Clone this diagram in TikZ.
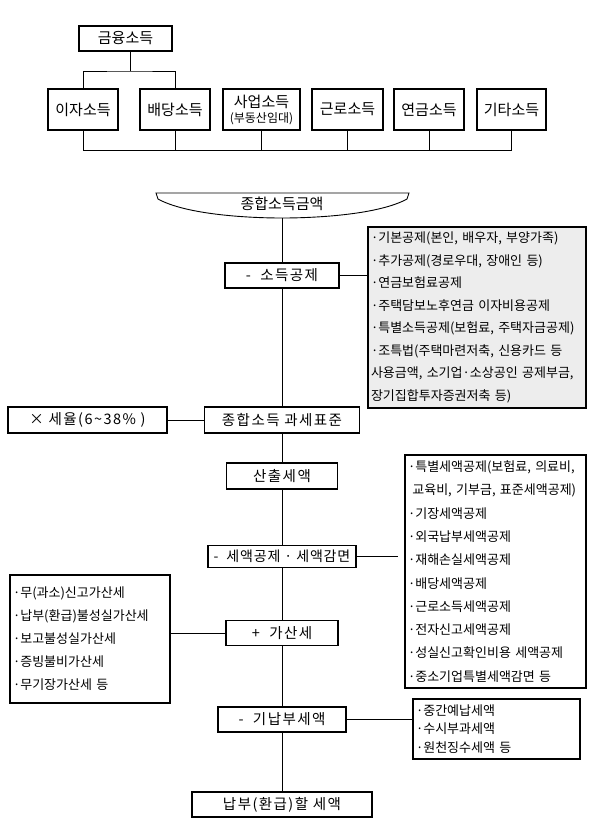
\documentclass[tikz,border=0pt]{standalone}
\usepackage{fontspec}
\setmainfont{Noto Sans CJK KR}
\newcommand\bigtxt{\fontsize{15pt}{18pt}\selectfont}
\newcommand\boxtxt{\fontsize{14.5pt}{16pt}\selectfont\addfontfeature{LetterSpace=10}}
\newcommand\listtxt[1]{\fontsize{13pt}{#1}\selectfont}

\begin{document}
\begin{tikzpicture}[x=1pt, y=-1pt]
\tikzset{ >=latex, inner sep=0pt, outer sep=0pt,
  box/.style={draw, line width=1.6pt, minimum height=25pt, font=\boxtxt},
  topbox/.style={draw, line width=1.6pt, minimum height=41pt, font=\bigtxt},
  listbox/.style={draw, line width=1.6pt, inner sep=3pt, align=left},
  link/.style={line width=0.9pt},
}
\useasboundingbox (0,0) rectangle (609,836);

%\draw [lightgray, dashed] (0,0) grid [step=50] (609,836);

% kinds of income
\node [box, font=\bigtxt, minimum width=93pt] (FI) at (125.5,38.5) {금융소득};
\node [topbox, minimum width=70pt] (IJ) at (83,109.5) {이자소득};
\node [topbox, minimum width=70pt] (BD) at (175,109.5) {배당소득};
\node [topbox, minimum width=77pt, align=center] (SU) at (261.5,109.5) {사업소득\\[-3pt]{\fontsize{12pt}{14pt}\selectfont(부동산임대)}};
\node [topbox, minimum width=71pt] (GR) at (347.5,109.5) {근로소득};
\node [topbox, minimum width=70pt] (YG) at (429,109.5) {연금소득};
\node [topbox, minimum width=69pt] (KT) at (511.5,109.5) {기타소득};

\coordinate (J) at (130,71);
\coordinate (B) at (0,150);

\draw [link] (FI.south -| J) -- (J);
\draw [link] (IJ.north) |- (J) -| (BD.north);

\draw [link] (IJ.south) -- (IJ.south |- B);
\draw [link] (BD.south) -- (BD.south |- B);
\draw [link] (SU.south) -- (SU.south |- B);
\draw [link] (GR.south) -- (GR.south |- B);
\draw [link] (YG.south) -- (YG.south |- B);
\draw [link] (KT.south) -- (KT.south |- B);
\draw [link] (IJ.south |- B) -- (KT.south |- B);

% total income
\node [font=\bigtxt] (TI) at (282,204) {종합소득금액};
\draw [link] (156,193) -- (409,193) -- (407,199)
  .. controls (380,214) and (320,218) .. (282,218)
  .. controls (244,218) and (185,214) .. (158,199) -- cycle;
\coordinate (TB) at (282,218);

% main column
\node [box, minimum width=114pt] (SG) at (282,275.5) {-\ \ 소득공제};
\node [box, minimum width=155pt, minimum height=26pt] (TS) at (282,420) {종합소득 과세표준};
\node [box, minimum width=159pt, minimum height=26pt] (SR) at (87.5,420) {×\ 세율(6\textasciitilde38\%\ )};
\node [box, minimum width=111pt, minimum height=26pt] (SC) at (282,476) {산출세액};
\node [box, minimum width=148pt, minimum height=22pt,
  font=\fontsize{14pt}{16pt}\selectfont\addfontfeature{LetterSpace=6}] (TC) at (282,556.5) {-\ \ 세액공제 · 세액감면};
\node [box, minimum width=112pt] (GS) at (282,633) {+\ \ 가산세};
\node [box, minimum width=128pt] (GN) at (282,719.5) {-\ \ 기납부세액};
\node [box, minimum width=180pt] (PR) at (282,804.5) {납부(환급)할 세액};

% lists
\node [listbox, fill=black!7, minimum width=218pt, minimum height=181pt, text width=212pt,
  font=\listtxt{22.5pt}] (GB) at (477,317.5)
  {·기본공제(본인, 배우자, 부양가족)\\
   ·추가공제(경로우대, 장애인 등)\\
   ·연금보험료공제\\
   ·주택담보노후연금 이자비용공제\\
   ·특별소득공제(보험료, 주택자금공제)\\
   ·조특법(주택마련저축, 신용카드 등\\
   사용금액, 소기업·소상공인 공제부금,\\
   장기집합투자증권저축 등)};
\node [listbox, minimum width=181pt, minimum height=233pt, text width=175pt,
  font=\listtxt{23.3pt}] (RB) at (495.5,571.5)
  {·특별세액공제(보험료, 의료비,\\
   \ 교육비, 기부금, 표준세액공제)\\
   ·기장세액공제\\
   ·외국납부세액공제\\
   ·재해손실세액공제\\
   ·배당세액공제\\
   ·근로소득세액공제\\
   ·전자신고세액공제\\
   ·성실신고확인비용 세액공제\\
   ·중소기업특별세액감면 등};
\node [listbox, minimum width=160pt, minimum height=128pt, text width=154pt,
  font=\listtxt{23pt}] (LB) at (90,639)
  {·무(과소)신고가산세\\
   ·납부(환급)불성실가산세\\
   ·보고불성실가산세\\
   ·증빙불비가산세\\
   ·무기장가산세 등};
\node [listbox, minimum width=167pt, minimum height=60pt, text width=161pt,
  font=\listtxt{18.5pt}] (PB) at (496.5,729)
  {·중간예납세액\\
   ·수시부과세액\\
   ·원천징수세액 등};

% connectors
\draw [link] (TB) -- (SG);
\draw [link] (SG) -- (TS);
\draw [link] (TS) -- (SC);
\draw [link] (SC) -- (TC);
\draw [link] (TC) -- (GS);
\draw [link] (GS) -- (GN);
\draw [link] (GN) -- (PR);

\draw [link] (SR) -- (TS);
\draw [link] (SG) -- (SG -| GB.west);
\draw [link, shorten >=7pt] (TC) -- (TC -| RB.west);
\draw [link] (LB.east |- GS) -- (GS);
\draw [link] (GN) -- (GN -| PB.west);

\end{tikzpicture}
\end{document}
